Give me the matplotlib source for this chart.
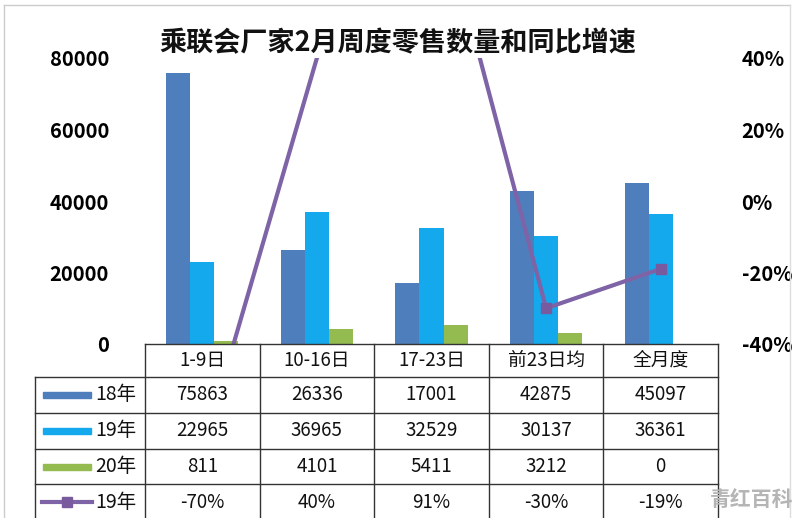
import matplotlib.pyplot as plt
import numpy as np
from matplotlib.lines import Line2D
from matplotlib.patches import Rectangle

plt.rcParams['font.family'] = ['Noto Sans CJK SC', 'DejaVu Sans']

# data
cats = ['1-9日', '10-16日', '17-23日', '前23日均', '全月度']
s18 = [75863, 26336, 17001, 42875, 45097]
s19 = [22965, 36965, 32529, 30137, 36361]
s20 = [811, 4101, 5411, 3212, 0]
yoy19 = [-0.70, 0.40, 0.91, -0.30, -0.19]
series_names = ['18年', '19年', '20年', '19年']

c18 = '#4f7ebd'
c19 = '#14a8ec'
c20 = '#93bb50'
cline = '#7e64a6'

W, H = 800, 518
fig = plt.figure(figsize=(8, 5.18), dpi=100)

# plot area in pixels
px_l, px_r, px_top, px_bot = 145, 718, 58, 344
ax = fig.add_axes([px_l / W, 1 - px_bot / H, (px_r - px_l) / W, (px_bot - px_top) / H])
x = np.arange(len(cats))
bw = 0.21
ax.bar(x - bw, s18, bw, color=c18)
ax.bar(x, s19, bw, color=c19)
ax.bar(x + bw, s20, bw, color=c20)
ax.set_xlim(-0.5, len(cats) - 0.5)
ax.set_ylim(0, 80000)
ax.set_yticks([0, 20000, 40000, 60000, 80000])
ax.set_yticklabels(['0', '20000', '40000', '60000', '80000'], fontsize=14.5, fontweight='bold')
ax.tick_params(axis='y', length=0, pad=26)
ax.set_xticks([])
for sp in ax.spines.values():
    sp.set_visible(False)

ax2 = ax.twinx()
ax2.plot(x, yoy19, color=cline, linewidth=3)
# markers only where the value sits inside the axis range (others are cut off)
yoy_arr = np.array(yoy19)
inside = np.ma.masked_where((yoy_arr >= 0.4) | (yoy_arr <= -0.4), yoy_arr)
ax2.plot(x, inside, linestyle='none', marker='s', markersize=7, color='#7a5a9e')
ax2.set_ylim(-0.4, 0.4)
ax2.set_yticks([-0.4, -0.2, 0, 0.2, 0.4])
ax2.set_yticklabels(['-40%', '-20%', '0%', '20%', '40%'], fontsize=14.5, fontweight='bold')
ax2.tick_params(axis='y', length=0, pad=17)
for sp in ax2.spines.values():
    sp.set_visible(False)

fig.text(398 / W, 1 - 43 / H, '乘联会厂家2月周度零售数量和同比增速', ha='center', va='center',
         fontsize=19.5, fontweight='bold', color='#111111')

# data table in pixel coordinates
tab = fig.add_axes([0, 0, 1, 1])
tab.set_xlim(0, W)
tab.set_ylim(H, 0)
tab.axis('off')
tab.patch.set_alpha(0)

colw = (px_r - px_l) / len(cats)
col_edges = [px_l + i * colw for i in range(len(cats) + 1)]
lab_l = 35
row_edges = [344, 377, 413, 449, 484, 520]
lc = '#333333'
lw = 1.0

tab.plot([px_l, px_r], [row_edges[0]] * 2, color=lc, lw=lw)
for yy in row_edges[1:-1]:
    tab.plot([lab_l, px_r], [yy, yy], color=lc, lw=lw)
for xx in col_edges:
    tab.plot([xx, xx], [row_edges[0], H], color=lc, lw=lw)
tab.plot([lab_l, lab_l], [row_edges[1], H], color=lc, lw=lw)

for i, c in enumerate(cats):
    cx = (col_edges[i] + col_edges[i + 1]) / 2
    tab.text(cx, (row_edges[0] + row_edges[1]) / 2, c, ha='center', va='center', fontsize=13.5, color='#111111')

rows = [[str(v) for v in s18], [str(v) for v in s19], [str(v) for v in s20],
        ['%d%%' % round(v * 100) for v in yoy19]]
for r, vals in enumerate(rows):
    cy = (row_edges[r + 1] + row_edges[r + 2]) / 2
    for i, v in enumerate(vals):
        cx = (col_edges[i] + col_edges[i + 1]) / 2
        tab.text(cx, cy, v, ha='center', va='center', fontsize=13.5, color='#111111')

# legend keys in row labels
key_colors = [c18, c19, c20]
for r in range(4):
    cy = (row_edges[r + 1] + row_edges[r + 2]) / 2
    if r < 3:
        tab.add_patch(Rectangle((43, cy - 3), 48, 6, color=key_colors[r]))
    else:
        tab.plot([42, 92], [cy, cy], color=cline, lw=3)
        tab.plot([67], [cy], marker='s', color='#7a5a9e', markersize=7)
    tab.text(95, cy, series_names[r], ha='left', va='center', fontsize=14, color='#111111')

# outer border
fig.add_artist(Line2D([4 / W, 4 / W], [0, 1 - 5 / H], color='#cccccc', lw=1))
fig.add_artist(Line2D([4 / W, 790 / W], [1 - 5 / H, 1 - 5 / H], color='#cccccc', lw=1))
fig.add_artist(Line2D([790 / W, 790 / W], [0, 1 - 5 / H], color='#dddddd', lw=1))

fig.text(752 / W, 1 - 499 / H, '青红百科', ha='center', va='center', fontsize=15,
         fontweight='bold', color='#b5b5b5')

fig.savefig('out.png', dpi=100)
